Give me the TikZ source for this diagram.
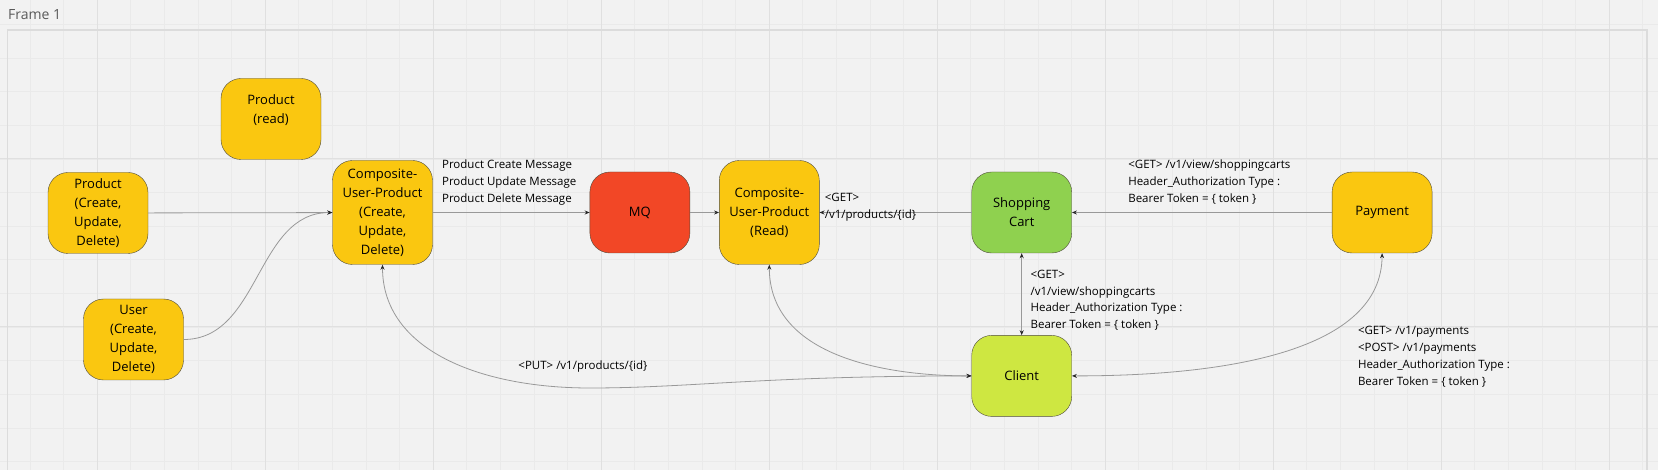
\documentclass[tikz,border=0pt]{standalone}
\usepackage{fontspec}
\setmainfont{Open Sans}
\usepackage{xcolor}
\usetikzlibrary{positioning,arrows.meta}
\definecolor{MiroYellow}{HTML}{FAC710}
\definecolor{MiroRed}{HTML}{F24726}
\definecolor{MiroGreen}{HTML}{8FD14F}
\definecolor{MiroLime}{HTML}{CEE741}
\definecolor{BoardGray}{HTML}{F2F2F2}
\definecolor{GridMinor}{HTML}{EAEAEA}
\definecolor{GridMajor}{HTML}{E0E0E0}
\definecolor{FrameGray}{HTML}{DCDCDC}
\definecolor{EdgeGray}{HTML}{999999}
\definecolor{BoxLine}{HTML}{4F4B3C}
\newcommand{\boxfont}{\fontsize{13}{19}\selectfont}
\newcommand{\msgfont}{\fontsize{11.5}{16.7}\selectfont}

\begin{document}
\begin{tikzpicture}[x=1pt, y=-1pt,
    service/.style={draw=BoxLine, fill=MiroYellow, rounded corners=20pt, minimum width=100pt, minimum height=81pt, align=center, font=\boxfont, inner sep=2pt},
    tallbox/.style={service, minimum height=104pt},
    msg/.style={align=left, font=\msgfont, inner sep=0pt},
    flow/.style={draw=EdgeGray, line width=0.8pt, -{Stealth[length=5pt,width=4pt,color=black!85]}},
    flowboth/.style={draw=EdgeGray, line width=0.8pt, {Stealth[length=5pt,width=4pt,color=black!85]}-{Stealth[length=5pt,width=4pt,color=black!85]}}]
      % Board
      \useasboundingbox (0,0) rectangle (1658,470);
      \fill[BoardGray] (0,0) rectangle (1658,470);
      \foreach \gx in {0,...,48}
        \draw[GridMinor, line width=0.6pt] ({29.8+33.6*\gx},0) -- ++(0,470);
      \foreach \gy in {0,...,13}
        \draw[GridMinor, line width=0.6pt] (0,{24.6+33.6*\gy}) -- ++(1658,0);
      \foreach \gx in {97,265,...,1609}
        \draw[GridMajor, line width=1pt] (\gx,0) -- ++(0,470);
      \foreach \gy in {159,327}
        \draw[GridMajor, line width=1pt] (0,\gy) -- ++(1658,0);
      \draw[FrameGray, line width=1.5pt] (7.5,470) -- (7.5,30) -- (1647,30) -- (1647,470);
      \node[anchor=west, text=black!65, font=\fontsize{14}{16}\selectfont, inner sep=0pt] (frametitle) at (8,15) {Frame 1};
      % Nodes
      \node[service] (pread) at (271,119) {Product\\(read)\\\mbox{}};
      \node[service] (pcud) at (98,213) {Product\\(Create,\\Update,\\Delete)};
      \node[service] (user) at (133.5,339.5) {User\\(Create,\\Update,\\Delete)};
      \node[tallbox] (ccud) at (382.5,212.5) {Composite-\\User-Product\\(Create,\\Update,\\Delete)};
      \node[service, fill=MiroRed, right=157pt of ccud] (mq) {MQ};
      \node[tallbox, right=29pt of mq] (cread) {Composite-\\User-Product\\(Read)};
      \node[service, fill=MiroGreen, right=152pt of cread] (cart) {Shopping\\Cart};
      \node[service, right=260pt of cart] (pay) {Payment};
      \node[service, fill=MiroLime, below=82pt of cart] (client) {Client};
      % Arrows
      \draw[flow] (pcud) -- (ccud);
      \draw[flow] (user.east) to[out=0, in=180] (ccud.west);
      \draw[flow] (ccud) -- node[msg, anchor=south west, pos=0, xshift=9pt, yshift=7pt] {Product Create Message\\Product Update Message\\Product Delete Message} (mq);
      \draw[flow] (mq) -- (cread);
      \draw[flow] (cart) -- node[msg, anchor=west, pos=1, xshift=5pt, yshift=5.5pt] {<GET>\\/v1/products/\{id\}} (cread);
      \draw[flow] (pay) -- node[msg, anchor=south west, pos=1, xshift=56pt, yshift=8pt] {<GET> /v1/view/shoppingcarts\\Header\_Authorization Type :\\Bearer Token = \{ token \}} (cart);
      \draw[flowboth] (client) -- node[msg, anchor=west, xshift=8.5pt, yshift=-6pt] {<GET>\\/v1/view/shoppingcarts\\Header\_Authorization Type :\\Bearer Token = \{ token \}} (cart);
      \draw[flowboth] (client.east) .. controls (1230,376) and (1381.5,350) .. (pay.south)
        node[msg, anchor=west, pos=1, xshift=-24.5pt, yshift=-103.5pt] {<GET> /v1/payments\\<POST> /v1/payments\\Header\_Authorization Type :\\Bearer Token = \{ token \}};
      \draw[flowboth] (client.west) .. controls (760,376) and (690,388) .. (590,388)
        node[msg, anchor=center, xshift=-7pt, yshift=21pt] {<PUT> /v1/products/\{id\}}
        .. controls (480,388) and (382.5,350) .. (ccud.south);
      \draw[flowboth] (client.west) to[out=180, in=-90] (cread.south);
    \end{tikzpicture}
\end{document}
